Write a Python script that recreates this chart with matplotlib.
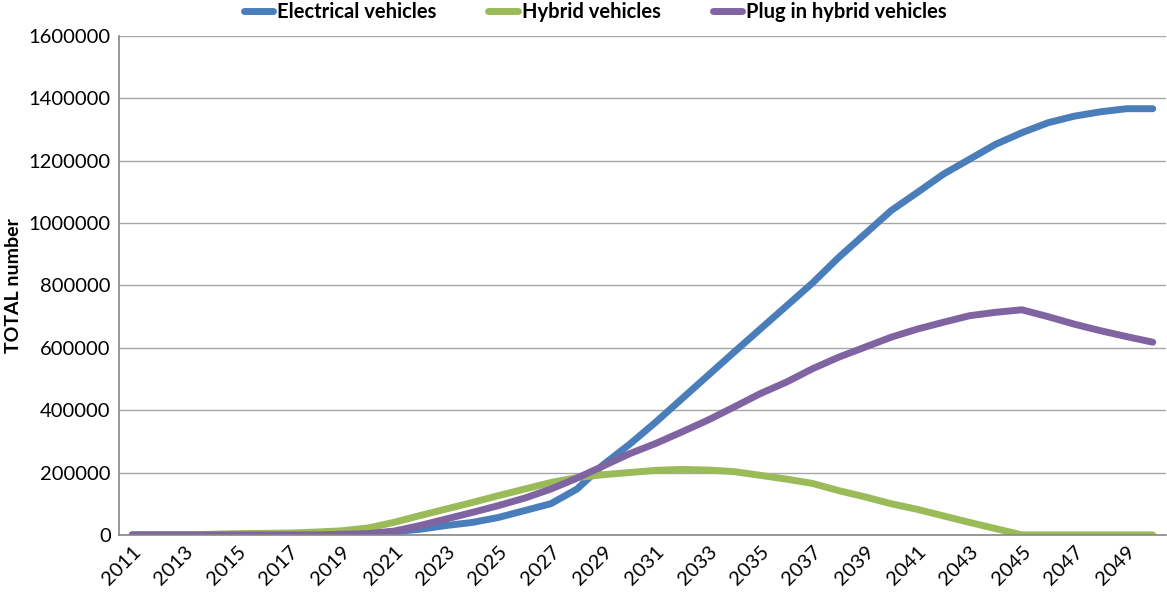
import numpy as np
import matplotlib
matplotlib.use("Agg")
from matplotlib import pyplot as plt

# data
years = list(range(2011, 2051))
electrical = [0, 0, 0, 0, 0, 0, 0, 0, 0, 3000,
              10000, 18000, 30000, 40000, 56000, 78000, 100000, 147000, 225000, 290000,
              361000, 436000, 511000, 586000, 660000, 734000, 808000, 890000, 965000, 1040000,
              1098000, 1157000, 1205000, 1253000, 1290000, 1322000, 1343000, 1357000, 1367000, 1367000]
hybrid = [0, 0, 0, 2000, 4000, 5000, 6000, 9000, 13000, 22000,
          40000, 62000, 83000, 104000, 126000, 147000, 168000, 184000, 193000, 200000,
          207000, 210000, 208000, 203000, 191000, 179000, 165000, 142000, 122000, 100000,
          82000, 61000, 40000, 20000, 0, 0, 0, 0, 0, 0]
plugin = [0, 0, 0, 0, 0, 0, 0, 0, 2000, 4000,
          12000, 30000, 51000, 72000, 94000, 118000, 147000, 182000, 221000, 260000,
          293000, 330000, 368000, 410000, 453000, 490000, 533000, 570000, 602000, 634000,
          660000, 682000, 703000, 714000, 722000, 700000, 676000, 655000, 636000, 618000]
series_names = ["Electrical vehicles", "Hybrid vehicles", "Plug in hybrid vehicles"]
colors = ["#4A7EBB", "#9BBB59", "#8064A2"]
yticks = list(range(0, 1600001, 200000))

plt.rcParams['font.family'] = ['Lato', 'DejaVu Sans']

fig = plt.figure(figsize=(11.67, 6.01), dpi=100)
ax = fig.add_axes([0.102, 0.110, 0.897, 0.830])

x = np.arange(len(years))
for vals, name, c in zip([electrical, hybrid, plugin], series_names, colors):
    ax.plot(x, vals, color=c, lw=5, label=name, solid_capstyle='round', solid_joinstyle='round')

ax.set_xlim(-0.5, len(years) - 0.5)
ax.set_ylim(0, 1600000)
ax.set_yticks(yticks)
ax.set_yticklabels([str(v) for v in yticks], fontsize=14.5)
ax.set_xticks(x[::2])
ax.set_xticklabels([str(y) for y in years[::2]], rotation=45, ha='right',
                   rotation_mode='anchor', fontsize=14.5)
ax.tick_params(length=0, pad=6)
ax.grid(axis='y', color='#A6A6A6', lw=1)
ax.set_axisbelow(True)
for s in ['top', 'right']:
    ax.spines[s].set_visible(False)
for s in ['left', 'bottom']:
    ax.spines[s].set_color('#868686')
    ax.spines[s].set_linewidth(1.2)

ax.set_ylabel("TOTAL number", fontsize=14, fontweight='bold')
ax.yaxis.set_label_coords(-0.093, 0.5)

fig.legend(loc='center', bbox_to_anchor=(0.51, 0.98), ncol=3, frameon=False,
           prop={'size': 14.5, 'weight': 'bold'}, handlelength=1.45,
           handletextpad=0.2, columnspacing=2.6)

fig.savefig("out.png", dpi=100)
